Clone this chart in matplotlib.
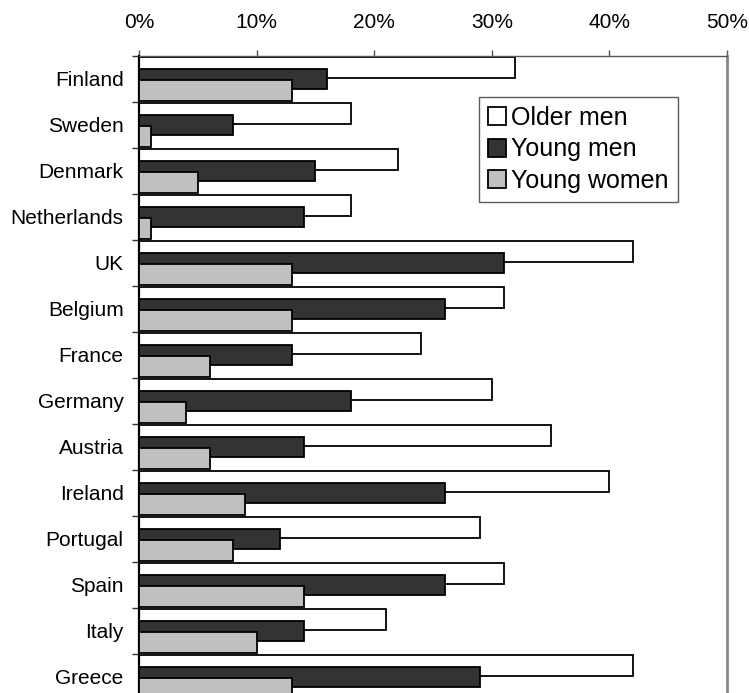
import numpy as np
import matplotlib.pyplot as plt
from matplotlib.ticker import FuncFormatter, MultipleLocator

plt.rcParams['font.family'] = ['Liberation Sans', 'DejaVu Sans']

countries = ["Finland", "Sweden", "Denmark", "Netherlands", "UK", "Belgium",
             "France", "Germany", "Austria", "Ireland", "Portugal", "Spain",
             "Italy", "Greece"]
older_men = [32, 18, 22, 18, 42, 31, 24, 30, 35, 40, 29, 31, 21, 42]
young_men = [16, 8, 15, 14, 31, 26, 13, 18, 14, 26, 12, 26, 14, 29]
young_women = [13, 1, 5, 1, 13, 13, 6, 4, 6, 9, 8, 14, 10, 13]

fig = plt.figure(figsize=(7.49, 6.93), dpi=100)
ax = fig.add_axes([0.1856, -0.0101, 0.785, 0.9293])

y = np.arange(len(countries))
h = 0.44
ax.barh(y - 0.25, older_men, height=h, color="white", edgecolor="black",
        linewidth=1.3, label="Older men", zorder=2)
ax.barh(y, young_men, height=h, color="#333333", edgecolor="black",
        linewidth=1.3, label="Young men", zorder=3)
ax.barh(y + 0.25, young_women, height=h, color="#c0c0c0", edgecolor="black",
        linewidth=1.3, label="Young women", zorder=4)

ax.set_xlim(0, 50)
ax.set_ylim(len(countries) - 0.5, -0.5)

# percent scale along the top
ax.xaxis.tick_top()
ax.xaxis.set_major_locator(MultipleLocator(10))
ax.xaxis.set_major_formatter(FuncFormatter(lambda v, p: f"{v:.0f}%"))
ax.tick_params(axis="x", which="major", direction="out", length=4.5,
               width=1, color="#555555", pad=13, labelsize=15)

# country names, with ticks between the groups
ax.set_yticks(y)
ax.set_yticklabels(countries)
ax.set_yticks(np.arange(len(countries) + 1) - 0.5, minor=True)
ax.tick_params(axis="y", which="major", length=0, pad=11, labelsize=15)
ax.tick_params(axis="y", which="minor", length=5, width=1, color="#333333")

ax.spines["bottom"].set_visible(False)
ax.spines["left"].set_color("black")
ax.spines["left"].set_linewidth(1.6)
ax.spines["top"].set_color("#555555")
ax.spines["top"].set_linewidth(1)
ax.spines["right"].set_color("#888888")
ax.spines["right"].set_linewidth(2)

leg = ax.legend(loc="upper left", bbox_to_anchor=(0.578, 0.936),
                borderaxespad=0, fontsize=18, frameon=True, fancybox=False,
                handlelength=0.75, handleheight=0.75, handletextpad=0.2,
                labelspacing=0.3, borderpad=0.35)
leg.get_frame().set_edgecolor("#333333")
leg.get_frame().set_linewidth(1)

fig.savefig("out.png", dpi=100)
